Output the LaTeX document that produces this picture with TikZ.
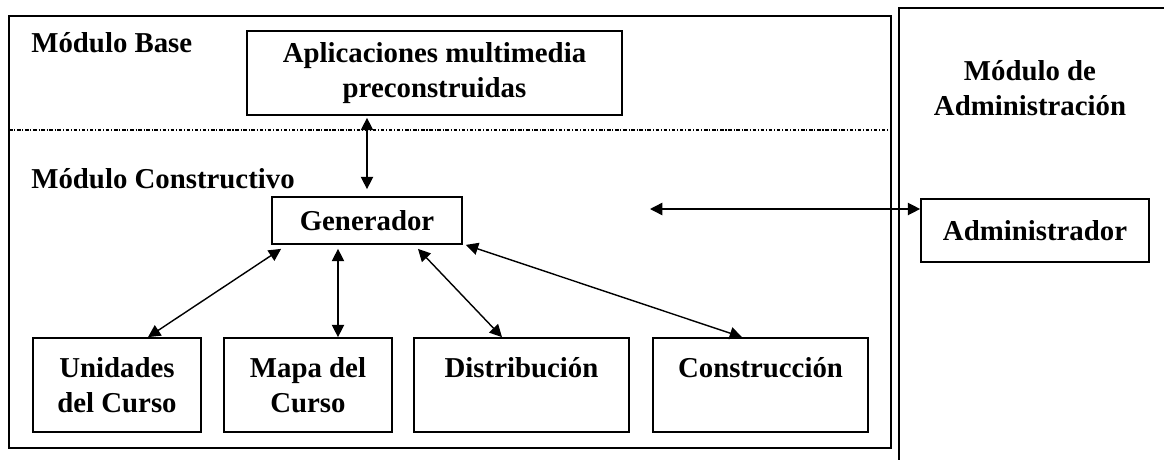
\documentclass[tikz,border=0pt]{standalone}
\usepackage{fontspec}
\setmainfont{Liberation Serif}
\usetikzlibrary{arrows.meta,calc}

\begin{document}
\begin{tikzpicture}[x=0.02cm,y=-0.02cm,
  every node/.style={font=\fontsize{16.4}{20}\selectfont\bfseries},
  caja/.style={draw,line width=1pt,inner sep=0pt,align=center},
  flecha/.style={{Triangle[length=7pt,width=7pt]}-{Triangle[length=7pt,width=7pt]},line width=0.8pt}]
  \useasboundingbox (0,0) rectangle (1164,460);
  \clip (0,0) rectangle (1164,460);

  \draw[line width=1.1pt] (9,16) rectangle (891,448);
  \draw[line width=1.1pt] (899,8) rectangle (1200,500);
  \draw[line width=0.7pt,dash pattern=on 2pt off 1pt on 0.6pt off 1pt] (9,130) -- (891,130);

  \node at (31,52) [anchor=base west,inner sep=0pt] (mb) {Módulo Base};
  \node at (31,188) [anchor=base west,inner sep=0pt] (mc) {Módulo Constructivo};
  \node at (1030,88) [align=center] (ma) {Módulo de\\Administración};

  \node at (434.5,73) [caja,minimum width=7.5cm,minimum height=1.68cm] (apl) {Aplicaciones multimedia\\preconstruidas};
  \node at (367,220.5) [caja,minimum width=3.8cm,minimum height=0.94cm] (gen) {Generador};
  \node at (1035,230.5) [caja,minimum width=4.56cm,minimum height=1.26cm] (adm) {Administrador};

  \node at (117,385) [caja,minimum width=3.36cm,minimum height=1.88cm] (uni) {Unidades\\del Curso};
  \node at (308,385) [caja,minimum width=3.36cm,minimum height=1.88cm] (map) {Mapa del\\Curso};
  \node at (521.5,385) [caja,minimum width=4.3cm,minimum height=1.88cm] (dis) {Distribución\\\mbox{}};
  \node at (760.5,385) [caja,minimum width=4.3cm,minimum height=1.88cm] (con) {Construcción\\\mbox{}};

  \coordinate (cons) at (650,209);

  \draw[flecha] ($(apl.south)+(-67.5,2)$) -- ($(gen.north)+(0,-7)$);
  \draw[flecha] (cons) -- (cons -| adm.west);
  \draw[flecha] ($(gen.south west)+(10,4)$) -- ($(uni.north)+(31,0)$);
  \draw[flecha] ($(gen.south)+(-29,4)$) -- ($(map.north)+(30,0)$);
  \draw[flecha] ($(gen.south)+(51,4)$) -- ($(dis.north)+(-19.5,0)$);
  \draw[flecha] ($(gen.south east)+(3,0)$) -- ($(con.north)+(-18.5,0)$);
\end{tikzpicture}
\end{document}
